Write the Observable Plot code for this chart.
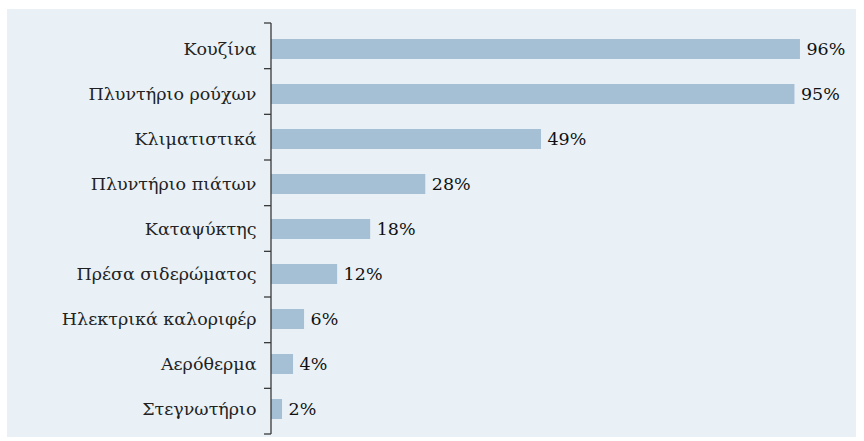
<!DOCTYPE html>
<html><head><meta charset="utf-8">
<script src="https://cdn.jsdelivr.net/npm/d3@7"></script>
<script src="https://cdn.jsdelivr.net/npm/@observablehq/plot@0.6"></script>
<style>
html,body{margin:0;padding:0;background:#fff;}
#wrap{position:relative;width:864px;height:441px;}
#panel{position:absolute;left:7px;top:9px;width:849px;height:428px;background:#e9f1f7;}
#chart{position:absolute;left:0;top:0;}
</style></head>
<body><div id="wrap"><div id="panel"></div><div id="chart"></div></div>
<script>
const categories = ["Κουζίνα","Πλυντήριο ρούχων","Κλιματιστικά","Πλυντήριο πιάτων","Καταψύκτης","Πρέσα σιδερώματος","Ηλεκτρικά καλοριφέρ","Αερόθερμα","Στεγνωτήριο"];
const values = [96,95,49,28,18,12,6,4,2];
const data = categories.map((c,i)=>({cat:c, v:values[i]}));
const W=864,H=441,mt=23,mb=7,ml=271,mr=42;
const n=categories.length;
const font = "'DejaVu Serif', serif";
const tickMarks = (index, scales, vals, dims) => {
  const step=(dims.height-dims.marginTop-dims.marginBottom)/n;
  const g=d3.create("svg:g").attr("stroke","#3a3a3a").attr("stroke-width",1.3);
  for(let k=0;k<=n;k++){
    const yy=dims.marginTop+k*step;
    g.append("line").attr("x1",dims.marginLeft-7).attr("x2",dims.marginLeft).attr("y1",yy).attr("y2",yy);
  }
  g.append("line").attr("x1",dims.marginLeft).attr("x2",dims.marginLeft).attr("y1",dims.marginTop).attr("y2",dims.height-dims.marginBottom);
  return g.node();
};
const chart = Plot.plot({
  width:W,height:H,marginTop:mt,marginBottom:mb,marginLeft:ml,marginRight:mr,
  style:{background:"transparent",fontFamily:font,fontSize:"17.5px",color:"#111"},
  x:{domain:[0,100],axis:null},
  y:{domain:categories,paddingInner:0.56,paddingOuter:0.28,label:null},
  marks:[
    Plot.barX(data,{y:"cat",x:"v",fill:"#a5bfd5"}),
    Plot.text(data,{y:"cat",x:"v",text:d=>d.v+"%",textAnchor:"start",dx:6,fontSize:17.5,fill:"#111"}),
    Plot.axisY({tickSize:0,tickPadding:15,fontSize:17.5,label:null,fill:"#222"}),
    tickMarks
  ]
});
document.getElementById("chart").appendChild(chart);
</script></body></html>
